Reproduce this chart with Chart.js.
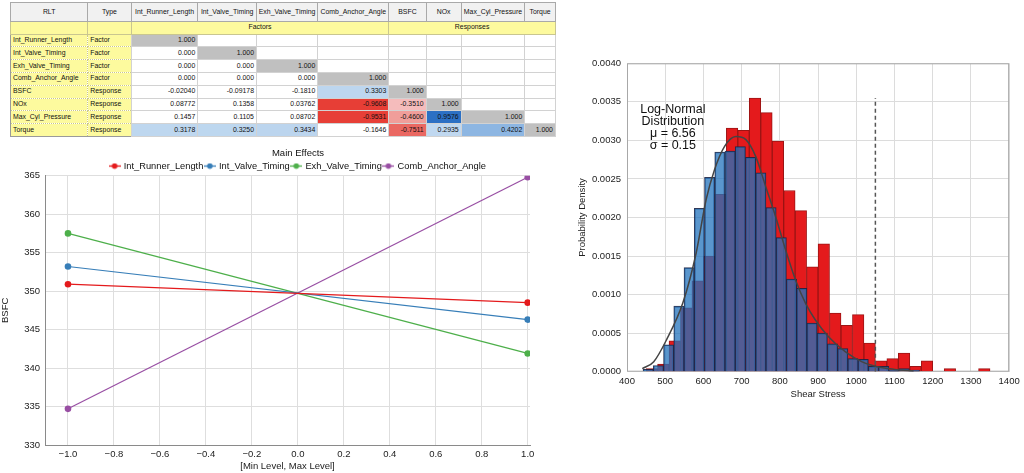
<!DOCTYPE html>
<html lang="en">
<head>
<meta charset="utf-8">
<title>RLT, Main Effects, Shear Stress</title>
<script src="https://cdn.jsdelivr.net/npm/chart.js@4.4.1/dist/chart.umd.min.js"></script>
<style>
  body { margin: 0; width: 1024px; height: 473px; background: #fff; position: relative; overflow: hidden;
         font-family: "Liberation Sans", Arial, sans-serif; }
  #rlt { position: absolute; left: 10px; top: 2px; width: 545px; table-layout: fixed;
         border-collapse: collapse; font-size: 6.9px; color: #111; border: 1px solid #9a9a9a; }
  #rlt td, #rlt th { padding: 0 2px; line-height: 1; white-space: nowrap; overflow: hidden;
         border: 1px solid #d2d2d2; font-weight: normal; }
  #rlt th { background: #f1f1f1; border-color: #a9a9a9; text-align: center; padding: 0 1px; }
  #rlt tr.head { height: 19px; }
  #rlt tr.group { height: 12.6px; }
  #rlt tr.body { height: 12.8px; }
  #rlt td.yel { background: #fdfa9e; border: 1px dotted #c9c690; text-align: left; }
  #rlt td.grp { background: #fdfa9e; text-align: center; border-color: #c9c690; }
  #rlt td.num { text-align: right; }
  #effects { position: absolute; left: 0; top: 138px; }
  #hist { position: absolute; left: 570px; top: 40px; }
</style>
</head>
<body>

<table id="rlt"></table>
<canvas id="effects" width="596" height="335"></canvas>
<canvas id="hist" width="454" height="370"></canvas>

<script>
// ---- RLT table ----
var names = ['Int_Runner_Length', 'Int_Valve_Timing', 'Exh_Valve_Timing', 'Comb_Anchor_Angle',
             'BSFC', 'NOx', 'Max_Cyl_Pressure', 'Torque'];
var kinds = ['Factor', 'Factor', 'Factor', 'Factor', 'Response', 'Response', 'Response', 'Response'];
var corr = [
  ['1.000'],
  ['0.000', '1.000'],
  ['0.000', '0.000', '1.000'],
  ['0.000', '0.000', '0.000', '1.000'],
  ['-0.02040', '-0.09178', '-0.1810', '0.3303', '1.000'],
  ['0.08772', '0.1358', '0.03762', '-0.9608', '-0.3510', '1.000'],
  ['0.1457', '0.1105', '0.08702', '-0.9531', '-0.4600', '0.9576', '1.000'],
  ['0.3178', '0.3250', '0.3434', '-0.1646', '-0.7511', '0.2935', '0.4202', '1.000']
];

// ---- Main effects ----
var levels = [-1, 1];
var runnerBSFC = [350.9, 348.5];
var intValveBSFC = [353.2, 346.3];
var exhValveBSFC = [357.5, 341.9];
var anchorBSFC = [334.7, 364.8];

// ---- Shear stress histogram ----
var redMid = [465, 495, 525, 555, 585, 615, 645, 675, 705, 735, 765, 795, 825, 855, 885,
              915, 945, 975, 1005, 1035, 1065, 1095, 1125, 1155, 1185, 1215, 1245, 1275, 1305, 1335];
var redDensity = [0.00004, 0.0001, 0.0004, 0.00083, 0.00118, 0.0015, 0.0023, 0.00316, 0.00313, 0.00355,
                  0.00336, 0.00299, 0.00235, 0.00209, 0.00136, 0.00166, 0.00076, 0.0006, 0.00074, 0.00037,
                  0.00014, 0.00017, 0.00024, 0.00007, 0.00014, 0, 0.00004, 0, 0, 0.00004];
var blueMid = [455.4, 482.2, 509.0, 535.8, 562.6, 589.4, 616.2, 643.0, 669.8, 696.6, 723.4, 750.2, 777.0, 803.8,
               830.6, 857.4, 884.2, 911.0, 937.8, 964.6, 991.4, 1018.2, 1045.0, 1071.8, 1098.6, 1125.4, 1152.2];
var blueDensity = [0.00003, 0.00008, 0.00035, 0.00085, 0.00135, 0.00212, 0.00252, 0.00285, 0.00286, 0.00292,
                   0.00278, 0.00258, 0.00213, 0.00174, 0.0012, 0.00108, 0.00063, 0.0005, 0.00036, 0.0003,
                   0.00017, 0.00016, 0.00007, 0.00007, 0.00002, 0.00004, 0.00002];
var fitStress = [440, 470, 503, 546, 581, 607, 629, 655, 685, 711, 737, 763, 789, 815, 841, 867, 893,
                 928, 971, 1014, 1058, 1101, 1150];
var fitDensity = [0.00004, 0.00013, 0.00041, 0.00089, 0.00154, 0.00223, 0.00262, 0.00292, 0.00305, 0.00301,
                  0.00279, 0.0024, 0.00201, 0.00158, 0.00119, 0.00089, 0.00067, 0.00045, 0.00026, 0.00013,
                  0.00006, 0.00003, 0.00001];
var limitStress = 1050;
var limitTop = 0.00355;
var noteLines = ['Log-Normal', 'Distribution', '\u03bc = 6.56', '\u03c3 = 0.15'];
var noteAt = [520, 0.0034];

var FONT = '"Liberation Sans", Arial, sans-serif';

// build the table
function cellColour(txt, diag) {
  if (diag) return '#c0c0c0';
  var r = parseFloat(txt), a = Math.abs(r);
  if (a < 0.2) return '#ffffff';
  var stops = r > 0
    ? [[0.2, [200, 222, 242]], [0.35, [187, 213, 238]], [0.42, [141, 182, 226]], [0.96, [44, 112, 196]]]
    : [[0.2, [250, 215, 215]], [0.35, [245, 188, 188]], [0.46, [240, 158, 154]], [0.75, [234, 104, 98]], [0.96, [231, 62, 54]]];
  if (a <= stops[0][0]) return 'rgb(' + stops[0][1] + ')';
  for (var i = 1; i < stops.length; i++) {
    if (a <= stops[i][0] || i == stops.length - 1) {
      var t = Math.min(1, (a - stops[i-1][0]) / (stops[i][0] - stops[i-1][0]));
      var c = stops[i-1][1].map(function (v, k) { return Math.round(v + (stops[i][1][k] - v) * t); });
      return 'rgb(' + c + ')';
    }
  }
}

var widths = [77.3, 43.4, 66.6, 58.7, 61.3, 71, 37.4, 35, 63.6, 30.7];
var html = '<colgroup>' + widths.map(function (w) { return '<col style="width:' + w + 'px">'; }).join('') + '</colgroup>';
html += '<tr class="head"><th>RLT</th><th>Type</th>' + names.map(function (n) { return '<th>' + n + '</th>'; }).join('') + '</tr>';
html += '<tr class="group"><td class="grp"></td><td class="grp"></td><td class="grp" colspan="4">Factors</td><td class="grp" colspan="4">Responses</td></tr>';
for (var r = 0; r < names.length; r++) {
  html += '<tr class="body"><td class="yel">' + names[r] + '</td><td class="yel">' + kinds[r] + '</td>';
  for (var c = 0; c < names.length; c++) {
    var v = corr[r][c];
    if (v === undefined) html += '<td></td>';
    else html += '<td class="num" style="background:' + cellColour(v, r == c) + '">' + v + '</td>';
  }
  html += '</tr>';
}
document.getElementById('rlt').innerHTML = html;

// legend icon: short line with a dot
function legendIcon(colour) {
  var cv = document.createElement('canvas');
  cv.width = 12; cv.height = 7;
  var g = cv.getContext('2d');
  g.strokeStyle = colour; g.lineWidth = 1.3;
  g.beginPath(); g.moveTo(0, 3.5); g.lineTo(12, 3.5); g.stroke();
  g.fillStyle = colour;
  g.beginPath(); g.arc(6, 3.5, 2.8, 0, Math.PI * 2); g.fill();
  return cv;
}

function effectSet(label, values, colour) {
  return {
    label: label,
    data: levels.map(function (x, i) { return {x: x, y: values[i]}; }),
    borderColor: colour, backgroundColor: colour,
    borderWidth: 1.2, pointRadius: 3.3, pointBorderWidth: 0, tension: 0
  };
}

new Chart(document.getElementById('effects'), {
  type: 'line',
  data: {
    datasets: [
      effectSet('Int_Runner_Length', runnerBSFC, '#e41a1c'),
      effectSet('Int_Valve_Timing', intValveBSFC, '#377eb8'),
      effectSet('Exh_Valve_Timing', exhValveBSFC, '#4daf4a'),
      effectSet('Comb_Anchor_Angle', anchorBSFC, '#984ea3')
    ]
  },
  options: {
    responsive: false,
    animation: false,
    layout: { padding: 0 },
    plugins: {
      title: { display: true, text: 'Main Effects', color: '#111',
               font: { family: FONT, size: 9.5, weight: 'normal' }, padding: { top: 10, bottom: 0 } },
      legend: {
        maxHeight: 16.3,
        labels: {
          usePointStyle: true, pointStyleWidth: 9, padding: 2, color: '#111',
          font: { family: FONT, size: 9.3 },
          generateLabels: function (chart) {
            var items = Chart.defaults.plugins.legend.labels.generateLabels(chart);
            items.forEach(function (it) {
              it.pointStyle = legendIcon(chart.data.datasets[it.datasetIndex].borderColor);
            });
            return items;
          }
        }
      },
      tooltip: { enabled: false }
    },
    scales: {
      x: {
        type: 'linear', min: -1.1, max: 1.01,
        afterFit: function (s) { s.height = 28; },
        grid: { color: '#dedede', drawTicks: false },
        border: { color: '#8a8a8a' },
        ticks: { stepSize: 0.2, includeBounds: false, padding: 4, color: '#222',
                 font: { family: FONT, size: 9.5 },
                 callback: function (v) { return (Math.round(v * 10) / 10).toFixed(1).replace('-', '\u2212'); } },
        title: { display: true, text: '[Min Level, Max Level]', color: '#222',
                 font: { family: FONT, size: 9.5 }, padding: { top: 0, bottom: 1 } }
      },
      y: {
        min: 330, max: 365,
        afterFit: function (s) { s.width = 45; },
        grid: { color: '#dedede', drawTicks: false },
        border: { color: '#8a8a8a' },
        ticks: { stepSize: 5, padding: 5, color: '#222', font: { family: FONT, size: 9.5 } },
        title: { display: true, text: 'BSFC', color: '#222',
                 font: { family: FONT, size: 9.5 }, padding: { top: 0, bottom: 0 } }
      },
      // empty right-hand strip so the title and legend centre where the original does
      gap: {
        position: 'right', min: 0, max: 1,
        afterFit: function (s) { s.width = 66; },
        grid: { display: false }, border: { display: false }, ticks: { display: false }
      }
    }
  }
});

// histogram frame and the fit note
var histExtras = {
  id: 'histExtras',
  beforeDatasetsDraw: function (chart) {
    var a = chart.chartArea, ctx = chart.ctx;
    ctx.save();
    ctx.strokeStyle = '#a8a8a8'; ctx.lineWidth = 1;
    ctx.strokeRect(a.left + 0.5, a.top + 0.5, a.right - a.left - 1, a.bottom - a.top - 1);
    ctx.restore();
  },
  afterDatasetsDraw: function (chart) {
    var ctx = chart.ctx;
    var x = chart.scales.x.getPixelForValue(noteAt[0]);
    var y = chart.scales.y.getPixelForValue(noteAt[1]);
    ctx.save();
    ctx.fillStyle = '#111';
    ctx.font = '12.5px ' + FONT;
    ctx.textAlign = 'center'; ctx.textBaseline = 'middle';
    noteLines.forEach(function (t, i) { ctx.fillText(t, x, y + i * 12); });
    ctx.restore();
  }
};

new Chart(document.getElementById('hist'), {
  type: 'bar',
  data: {
    datasets: [
      {
        type: 'line', label: 'Log-normal fit', order: 0,
        data: fitStress.map(function (x, i) { return {x: x, y: fitDensity[i]}; }),
        borderColor: '#444', borderWidth: 1.5, pointRadius: 0, cubicInterpolationMode: 'monotone', fill: false
      },
      {
        type: 'line', label: 'Limit', order: 1,
        data: [{x: limitStress, y: 0}, {x: limitStress, y: limitTop}],
        borderColor: '#555', borderWidth: 1.5, borderDash: [4, 3], pointRadius: 0, fill: false
      },
      {
        label: 'Blue', order: 2, xAxisID: 'x2', grouped: false,
        data: blueMid.map(function (x, i) { return {x: x, y: blueDensity[i]}; }),
        backgroundColor: 'rgba(35,115,188,0.75)', borderColor: 'rgba(25,35,70,0.9)', borderWidth: 1,
        barPercentage: 1, categoryPercentage: 1
      },
      {
        label: 'Red', order: 3, xAxisID: 'x', grouped: false,
        data: redMid.map(function (x, i) { return {x: x, y: redDensity[i]}; }),
        backgroundColor: '#e41a1c', borderColor: '#9c1414', borderWidth: 1,
        barPercentage: 1, categoryPercentage: 1
      }
    ]
  },
  options: {
    responsive: false,
    animation: false,
    layout: { padding: { left: 0, right: 12.3, top: 23.3, bottom: 0 } },
    plugins: { legend: { display: false }, tooltip: { enabled: false } },
    scales: {
      x: {
        type: 'linear', min: 400, max: 1400, offset: false,
        afterFit: function (s) { s.height = 38.3; },
        grid: { color: '#dcdcdc', drawTicks: false, offset: false },
        border: { display: false },
        ticks: { stepSize: 100, padding: 4.3, color: '#222', font: { family: FONT, size: 9.5 },
                 callback: function (v) { return String(v); } },
        title: { display: true, text: 'Shear Stress', color: '#222',
                 font: { family: FONT, size: 9.5 }, padding: { top: 0, bottom: 10.3 } }
      },
      x2: {
        type: 'linear', min: 400, max: 1400, offset: false, display: false,
        ticks: { stepSize: 100 }
      },
      y: {
        min: 0, max: 0.004,
        afterFit: function (s) { s.width = 57; },
        grid: { color: '#dcdcdc', drawTicks: false },
        border: { display: false },
        ticks: { stepSize: 0.0005, padding: 6, color: '#222', font: { family: FONT, size: 9.5 },
                 callback: function (v) { return v.toFixed(4); } },
        title: { display: true, text: 'Probability Density', color: '#222',
                 font: { family: FONT, size: 9.5 }, padding: { top: 7, bottom: 0 } }
      }
    }
  },
  plugins: [histExtras]
});
</script>
</body>
</html>
